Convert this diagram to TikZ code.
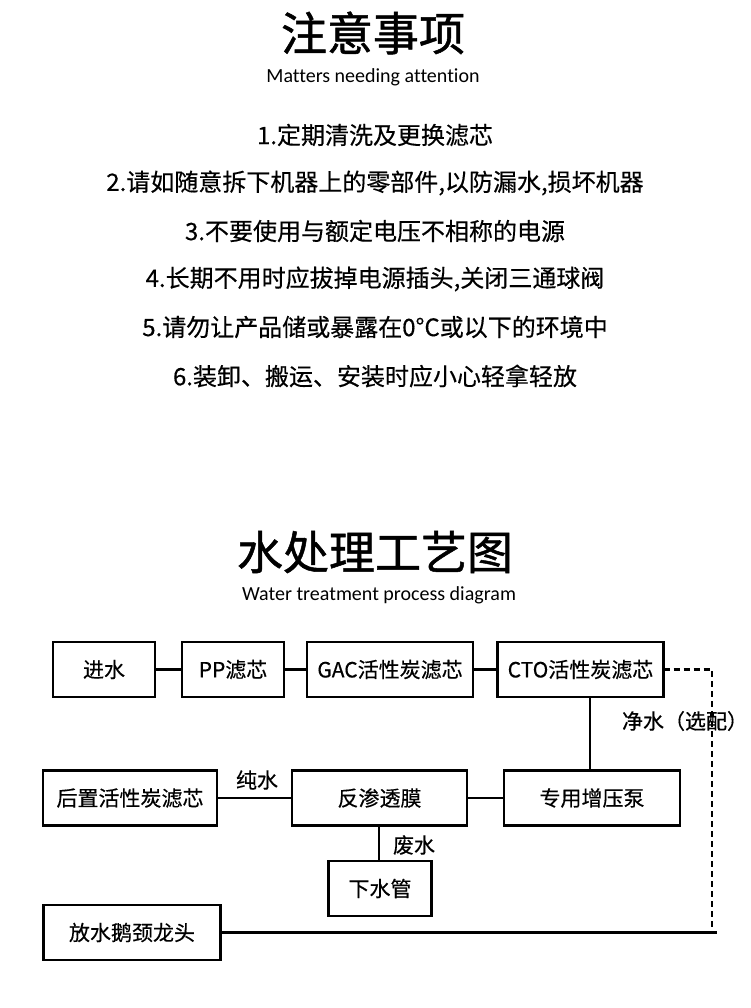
\documentclass[tikz,border=0pt]{standalone}
\usepackage{fontspec}
\setmainfont[FakeBold=0.4]{Noto Sans CJK SC}
\newfontfamily\titlefont[FakeBold=1.1]{Noto Sans CJK SC}
\newfontfamily\latinsub[Ligatures=NoCommon]{Carlito}
\begin{document}
\begin{tikzpicture}[x=1pt,y=-1pt,
  box/.style={draw=black,line width=2.2pt,inner sep=0pt,outer sep=0pt,minimum height=55pt,font=\fontsize{21}{21}\selectfont},
  conn/.style={line width=2.2pt,draw=black},
  dconn/.style={line width=2.2pt,draw=black,dash pattern=on 6pt off 4pt},
  lbl/.style={inner sep=0pt,font=\fontsize{21}{21}\selectfont},
  title/.style={inner sep=0pt,font=\titlefont\fontsize{46}{46}\selectfont},
  subtitle/.style={inner sep=0pt,font=\latinsub\fontsize{20}{20}\selectfont},
  item/.style={inner sep=0pt,font=\fontsize{24}{24}\selectfont}]
\fill[white] (0,0) rectangle (750,1008);
\useasboundingbox (0,0) rectangle (750,1008);
% Titles
\node[title] (t1) at (373,33) {注意事项};
\node[subtitle] (s1) at (373,77) {Matters needing attention};
\node[item] (i1) at (375,135) {1.定期清洗及更换滤芯};
\node[item] (i2) at (375,183) {2.请如随意拆下机器上的零部件,以防漏水,损坏机器};
\node[item] (i3) at (375,231) {3.不要使用与额定电压不相称的电源};
\node[item] (i4) at (375,279) {4.长期不用时应拔掉电源插头,关闭三通球阀};
\node[item] (i5) at (375,327) {5.请勿让产品储或暴露在0°C或以下的环境中};
\node[item] (i6) at (375,376) {6.装卸、搬运、安装时应小心轻拿轻放};
\node[title] (t2) at (375,552) {水处理工艺图};
\node[subtitle] (s2) at (379,595) {Water treatment process diagram};
% Boxes
\node[box,minimum width=102pt] (in) at (104,669.5) {进水};
\node[box,minimum width=102pt] (pp) at (233,669.5) {PP滤芯};
\node[box,minimum width=166pt] (gac) at (390,669.5) {GAC活性炭滤芯};
\node[box,minimum width=166pt] (cto) at (580.5,669.5) {CTO活性炭滤芯};
\node[box,minimum width=174pt] (post) at (130,798) {后置活性炭滤芯};
\node[box,minimum width=175pt] (ro) at (379.5,798) {反渗透膜};
\node[box,minimum width=176pt] (pump) at (592,798) {专用增压泵};
\node[box,minimum width=103pt] (drain) at (380,888.5) {下水管};
\node[box,minimum width=177pt] (tap) at (132,932.5) {放水鹅颈龙头};
% Labels
\node[lbl] (lp) at (257,780) {纯水};
\node[lbl] (lw) at (414,845) {废水};
\node[lbl] (lc) at (685,721) {净水（选配）};
% Connectors
\coordinate (vx) at (590,0);
\coordinate (dx) at (379,0);
\coordinate (rc) at (712,669.5);
\coordinate (rb) at (712,932.5);
\coordinate (re) at (717,932.5);
\draw[conn] (in) -- (pp);
\draw[conn] (pp) -- (gac);
\draw[conn] (gac) -- (cto);
\draw[conn] (vx |- cto.south) -- (vx |- pump.north);
\draw[conn] (pump) -- (ro);
\draw[conn] (ro) -- (post);
\draw[conn] (dx |- ro.south) -- (dx |- drain.north);
\draw[dconn] (cto.east) -- (rc) -- (rb);
\draw[conn] (tap.east) -- (re);
\end{tikzpicture}
\end{document}
